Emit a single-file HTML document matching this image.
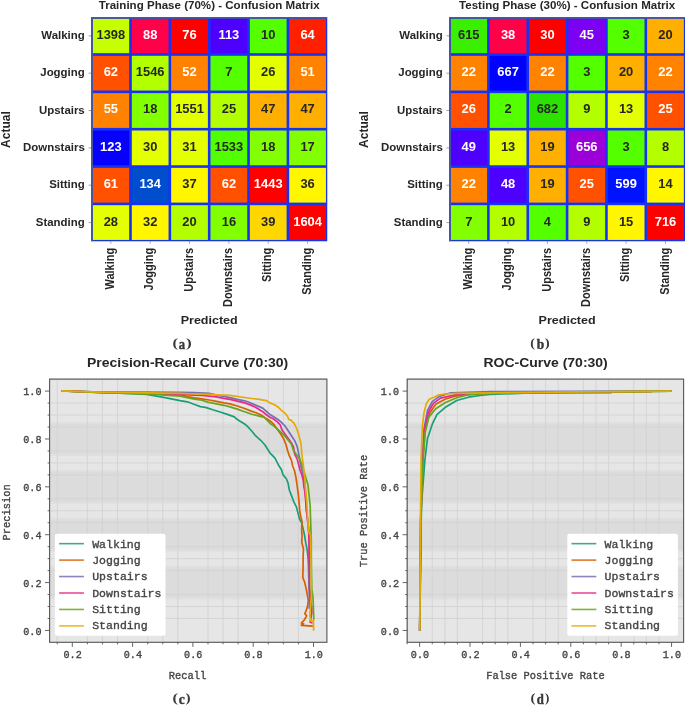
<!DOCTYPE html>
<html><head><meta charset="utf-8"><title>Confusion matrices and curves</title>
<style>html,body{margin:0;padding:0;background:#fff;}svg{display:block;will-change:transform;}</style></head>
<body><svg width="685" height="705" viewBox="0 0 685 705">
<rect width="685" height="705" fill="#fff"/>
<rect x="91.15" y="17.15" width="236.10" height="224.10" fill="#1633f4"/>
<rect x="93.00" y="18.70" width="36.20" height="34.50" fill="#c6ff00"/>
<rect x="131.80" y="18.70" width="36.75" height="34.50" fill="#ff0049"/>
<rect x="171.15" y="18.70" width="36.75" height="34.50" fill="#ff0001"/>
<rect x="210.50" y="18.70" width="36.75" height="34.50" fill="#4e00ff"/>
<rect x="249.85" y="18.70" width="36.75" height="34.50" fill="#54ff00"/>
<rect x="289.20" y="18.70" width="36.75" height="34.50" fill="#ff2000"/>
<rect x="93.00" y="55.80" width="36.20" height="34.75" fill="#ff5100"/>
<rect x="131.80" y="55.80" width="36.75" height="34.75" fill="#b2ff00"/>
<rect x="171.15" y="55.80" width="36.75" height="34.75" fill="#ff8200"/>
<rect x="210.50" y="55.80" width="36.75" height="34.75" fill="#54ff00"/>
<rect x="249.85" y="55.80" width="36.75" height="34.75" fill="#e4ff00"/>
<rect x="289.20" y="55.80" width="36.75" height="34.75" fill="#ff8200"/>
<rect x="93.00" y="93.15" width="36.20" height="34.75" fill="#ff8200"/>
<rect x="131.80" y="93.15" width="36.75" height="34.75" fill="#82ff00"/>
<rect x="171.15" y="93.15" width="36.75" height="34.75" fill="#e3ff00"/>
<rect x="210.50" y="93.15" width="36.75" height="34.75" fill="#b3ff00"/>
<rect x="249.85" y="93.15" width="36.75" height="34.75" fill="#ffaf00"/>
<rect x="289.20" y="93.15" width="36.75" height="34.75" fill="#ffaf00"/>
<rect x="93.00" y="130.50" width="36.20" height="34.75" fill="#0800ff"/>
<rect x="131.80" y="130.50" width="36.75" height="34.75" fill="#e4ff00"/>
<rect x="171.15" y="130.50" width="36.75" height="34.75" fill="#e4ff00"/>
<rect x="210.50" y="130.50" width="36.75" height="34.75" fill="#53fe00"/>
<rect x="249.85" y="130.50" width="36.75" height="34.75" fill="#82ff00"/>
<rect x="289.20" y="130.50" width="36.75" height="34.75" fill="#82ff00"/>
<rect x="93.00" y="167.85" width="36.20" height="34.75" fill="#ff5100"/>
<rect x="131.80" y="167.85" width="36.75" height="34.75" fill="#004ecd"/>
<rect x="171.15" y="167.85" width="36.75" height="34.75" fill="#fff600"/>
<rect x="210.50" y="167.85" width="36.75" height="34.75" fill="#ff5100"/>
<rect x="249.85" y="167.85" width="36.75" height="34.75" fill="#ff0000"/>
<rect x="289.20" y="167.85" width="36.75" height="34.75" fill="#fff600"/>
<rect x="93.00" y="205.20" width="36.20" height="34.75" fill="#e4ff00"/>
<rect x="131.80" y="205.20" width="36.75" height="34.75" fill="#fff600"/>
<rect x="171.15" y="205.20" width="36.75" height="34.75" fill="#b3ff00"/>
<rect x="210.50" y="205.20" width="36.75" height="34.75" fill="#82ff00"/>
<rect x="249.85" y="205.20" width="36.75" height="34.75" fill="#ffd700"/>
<rect x="289.20" y="205.20" width="36.75" height="34.75" fill="#ff0000"/>
<path d="M92.05,241.15V17.90H327.05" fill="none" stroke="#4a5896" stroke-width="1.8"/>
<text transform="translate(110.83,38.78) scale(1.050,1)" font-family="Liberation Sans" font-weight="bold" font-size="12.30" fill="#262626" text-anchor="middle">1398</text>
<text transform="translate(150.18,38.78) scale(1.050,1)" font-family="Liberation Sans" font-weight="bold" font-size="12.30" fill="#ffffff" text-anchor="middle">88</text>
<text transform="translate(189.53,38.78) scale(1.050,1)" font-family="Liberation Sans" font-weight="bold" font-size="12.30" fill="#ffffff" text-anchor="middle">76</text>
<text transform="translate(228.88,38.78) scale(1.050,1)" font-family="Liberation Sans" font-weight="bold" font-size="12.30" fill="#ffffff" text-anchor="middle">113</text>
<text transform="translate(268.23,38.78) scale(1.050,1)" font-family="Liberation Sans" font-weight="bold" font-size="12.30" fill="#262626" text-anchor="middle">10</text>
<text transform="translate(307.57,38.78) scale(1.050,1)" font-family="Liberation Sans" font-weight="bold" font-size="12.30" fill="#ffffff" text-anchor="middle">64</text>
<text transform="translate(110.83,76.12) scale(1.050,1)" font-family="Liberation Sans" font-weight="bold" font-size="12.30" fill="#ffffff" text-anchor="middle">62</text>
<text transform="translate(150.18,76.12) scale(1.050,1)" font-family="Liberation Sans" font-weight="bold" font-size="12.30" fill="#262626" text-anchor="middle">1546</text>
<text transform="translate(189.53,76.12) scale(1.050,1)" font-family="Liberation Sans" font-weight="bold" font-size="12.30" fill="#ffffff" text-anchor="middle">52</text>
<text transform="translate(228.88,76.12) scale(1.050,1)" font-family="Liberation Sans" font-weight="bold" font-size="12.30" fill="#262626" text-anchor="middle">7</text>
<text transform="translate(268.23,76.12) scale(1.050,1)" font-family="Liberation Sans" font-weight="bold" font-size="12.30" fill="#262626" text-anchor="middle">26</text>
<text transform="translate(307.57,76.12) scale(1.050,1)" font-family="Liberation Sans" font-weight="bold" font-size="12.30" fill="#ffffff" text-anchor="middle">51</text>
<text transform="translate(110.83,113.47) scale(1.050,1)" font-family="Liberation Sans" font-weight="bold" font-size="12.30" fill="#ffffff" text-anchor="middle">55</text>
<text transform="translate(150.18,113.47) scale(1.050,1)" font-family="Liberation Sans" font-weight="bold" font-size="12.30" fill="#262626" text-anchor="middle">18</text>
<text transform="translate(189.53,113.47) scale(1.050,1)" font-family="Liberation Sans" font-weight="bold" font-size="12.30" fill="#262626" text-anchor="middle">1551</text>
<text transform="translate(228.88,113.47) scale(1.050,1)" font-family="Liberation Sans" font-weight="bold" font-size="12.30" fill="#262626" text-anchor="middle">25</text>
<text transform="translate(268.23,113.47) scale(1.050,1)" font-family="Liberation Sans" font-weight="bold" font-size="12.30" fill="#262626" text-anchor="middle">47</text>
<text transform="translate(307.57,113.47) scale(1.050,1)" font-family="Liberation Sans" font-weight="bold" font-size="12.30" fill="#262626" text-anchor="middle">47</text>
<text transform="translate(110.83,150.83) scale(1.050,1)" font-family="Liberation Sans" font-weight="bold" font-size="12.30" fill="#ffffff" text-anchor="middle">123</text>
<text transform="translate(150.18,150.83) scale(1.050,1)" font-family="Liberation Sans" font-weight="bold" font-size="12.30" fill="#262626" text-anchor="middle">30</text>
<text transform="translate(189.53,150.83) scale(1.050,1)" font-family="Liberation Sans" font-weight="bold" font-size="12.30" fill="#262626" text-anchor="middle">31</text>
<text transform="translate(228.88,150.83) scale(1.050,1)" font-family="Liberation Sans" font-weight="bold" font-size="12.30" fill="#262626" text-anchor="middle">1533</text>
<text transform="translate(268.23,150.83) scale(1.050,1)" font-family="Liberation Sans" font-weight="bold" font-size="12.30" fill="#262626" text-anchor="middle">18</text>
<text transform="translate(307.57,150.83) scale(1.050,1)" font-family="Liberation Sans" font-weight="bold" font-size="12.30" fill="#262626" text-anchor="middle">17</text>
<text transform="translate(110.83,188.18) scale(1.050,1)" font-family="Liberation Sans" font-weight="bold" font-size="12.30" fill="#ffffff" text-anchor="middle">61</text>
<text transform="translate(150.18,188.18) scale(1.050,1)" font-family="Liberation Sans" font-weight="bold" font-size="12.30" fill="#ffffff" text-anchor="middle">134</text>
<text transform="translate(189.53,188.18) scale(1.050,1)" font-family="Liberation Sans" font-weight="bold" font-size="12.30" fill="#262626" text-anchor="middle">37</text>
<text transform="translate(228.88,188.18) scale(1.050,1)" font-family="Liberation Sans" font-weight="bold" font-size="12.30" fill="#ffffff" text-anchor="middle">62</text>
<text transform="translate(268.23,188.18) scale(1.050,1)" font-family="Liberation Sans" font-weight="bold" font-size="12.30" fill="#ffffff" text-anchor="middle">1443</text>
<text transform="translate(307.57,188.18) scale(1.050,1)" font-family="Liberation Sans" font-weight="bold" font-size="12.30" fill="#262626" text-anchor="middle">36</text>
<text transform="translate(110.83,225.53) scale(1.050,1)" font-family="Liberation Sans" font-weight="bold" font-size="12.30" fill="#262626" text-anchor="middle">28</text>
<text transform="translate(150.18,225.53) scale(1.050,1)" font-family="Liberation Sans" font-weight="bold" font-size="12.30" fill="#262626" text-anchor="middle">32</text>
<text transform="translate(189.53,225.53) scale(1.050,1)" font-family="Liberation Sans" font-weight="bold" font-size="12.30" fill="#262626" text-anchor="middle">20</text>
<text transform="translate(228.88,225.53) scale(1.050,1)" font-family="Liberation Sans" font-weight="bold" font-size="12.30" fill="#262626" text-anchor="middle">16</text>
<text transform="translate(268.23,225.53) scale(1.050,1)" font-family="Liberation Sans" font-weight="bold" font-size="12.30" fill="#262626" text-anchor="middle">39</text>
<text transform="translate(307.57,225.53) scale(1.050,1)" font-family="Liberation Sans" font-weight="bold" font-size="12.30" fill="#ffffff" text-anchor="middle">1604</text>
<line x1="88.55" y1="35.83" x2="91.15" y2="35.83" stroke="#888" stroke-width="0.8"/>
<text transform="translate(84.75,38.83) scale(1.040,1)" font-family="Liberation Sans" font-weight="bold" font-size="11.00" fill="#262626" text-anchor="end">Walking</text>
<line x1="88.55" y1="73.17" x2="91.15" y2="73.17" stroke="#888" stroke-width="0.8"/>
<text transform="translate(84.75,76.17) scale(1.040,1)" font-family="Liberation Sans" font-weight="bold" font-size="11.00" fill="#262626" text-anchor="end">Jogging</text>
<line x1="88.55" y1="110.52" x2="91.15" y2="110.52" stroke="#888" stroke-width="0.8"/>
<text transform="translate(84.75,113.52) scale(1.040,1)" font-family="Liberation Sans" font-weight="bold" font-size="11.00" fill="#262626" text-anchor="end">Upstairs</text>
<line x1="88.55" y1="147.88" x2="91.15" y2="147.88" stroke="#888" stroke-width="0.8"/>
<text transform="translate(84.75,150.88) scale(1.040,1)" font-family="Liberation Sans" font-weight="bold" font-size="11.00" fill="#262626" text-anchor="end">Downstairs</text>
<line x1="88.55" y1="185.23" x2="91.15" y2="185.23" stroke="#888" stroke-width="0.8"/>
<text transform="translate(84.75,188.23) scale(1.040,1)" font-family="Liberation Sans" font-weight="bold" font-size="11.00" fill="#262626" text-anchor="end">Sitting</text>
<line x1="88.55" y1="222.58" x2="91.15" y2="222.58" stroke="#888" stroke-width="0.8"/>
<text transform="translate(84.75,225.58) scale(1.040,1)" font-family="Liberation Sans" font-weight="bold" font-size="11.00" fill="#262626" text-anchor="end">Standing</text>
<line x1="110.83" y1="241.25" x2="110.83" y2="243.65" stroke="#888" stroke-width="0.8"/>
<text transform="translate(113.92,247.90) scale(1.100,1) rotate(-90)" font-family="Liberation Sans" font-weight="bold" font-size="10.95" fill="#262626" text-anchor="end">Walking</text>
<line x1="150.18" y1="241.25" x2="150.18" y2="243.65" stroke="#888" stroke-width="0.8"/>
<text transform="translate(153.28,247.90) scale(1.100,1) rotate(-90)" font-family="Liberation Sans" font-weight="bold" font-size="10.95" fill="#262626" text-anchor="end">Jogging</text>
<line x1="189.53" y1="241.25" x2="189.53" y2="243.65" stroke="#888" stroke-width="0.8"/>
<text transform="translate(192.63,247.90) scale(1.100,1) rotate(-90)" font-family="Liberation Sans" font-weight="bold" font-size="10.95" fill="#262626" text-anchor="end">Upstairs</text>
<line x1="228.88" y1="241.25" x2="228.88" y2="243.65" stroke="#888" stroke-width="0.8"/>
<text transform="translate(231.98,247.90) scale(1.100,1) rotate(-90)" font-family="Liberation Sans" font-weight="bold" font-size="10.95" fill="#262626" text-anchor="end">Downstairs</text>
<line x1="268.23" y1="241.25" x2="268.23" y2="243.65" stroke="#888" stroke-width="0.8"/>
<text transform="translate(271.33,247.90) scale(1.100,1) rotate(-90)" font-family="Liberation Sans" font-weight="bold" font-size="10.95" fill="#262626" text-anchor="end">Sitting</text>
<line x1="307.57" y1="241.25" x2="307.57" y2="243.65" stroke="#888" stroke-width="0.8"/>
<text transform="translate(310.68,247.90) scale(1.100,1) rotate(-90)" font-family="Liberation Sans" font-weight="bold" font-size="10.95" fill="#262626" text-anchor="end">Standing</text>
<text transform="translate(209.20,8.80) scale(1.092,1)" font-family="Liberation Sans" font-weight="bold" font-size="10.60" fill="#262626" text-anchor="middle">Training Phase (70%) - Confusion Matrix</text>
<text transform="translate(9.90,129.60) rotate(-90)" font-family="Liberation Sans" font-weight="bold" font-size="12.00" fill="#262626" text-anchor="middle">Actual</text>
<text transform="translate(209.20,323.80) scale(1.140,1)" font-family="Liberation Sans" font-weight="bold" font-size="11.00" fill="#262626" text-anchor="middle">Predicted</text>
<rect x="449.05" y="17.15" width="236.10" height="224.10" fill="#1633f4"/>
<rect x="450.90" y="18.70" width="36.20" height="34.50" fill="#3aef00"/>
<rect x="489.70" y="18.70" width="36.75" height="34.50" fill="#ff0049"/>
<rect x="529.05" y="18.70" width="36.75" height="34.50" fill="#ff0000"/>
<rect x="568.40" y="18.70" width="36.75" height="34.50" fill="#7c00f1"/>
<rect x="607.75" y="18.70" width="36.75" height="34.50" fill="#54ff00"/>
<rect x="647.10" y="18.70" width="36.75" height="34.50" fill="#ffaf00"/>
<rect x="450.90" y="55.80" width="36.20" height="34.75" fill="#ff8200"/>
<rect x="489.70" y="55.80" width="36.75" height="34.75" fill="#0001ff"/>
<rect x="529.05" y="55.80" width="36.75" height="34.75" fill="#ff8200"/>
<rect x="568.40" y="55.80" width="36.75" height="34.75" fill="#54ff00"/>
<rect x="607.75" y="55.80" width="36.75" height="34.75" fill="#ffaf00"/>
<rect x="647.10" y="55.80" width="36.75" height="34.75" fill="#ff8200"/>
<rect x="450.90" y="93.15" width="36.20" height="34.75" fill="#ff5100"/>
<rect x="489.70" y="93.15" width="36.75" height="34.75" fill="#54ff00"/>
<rect x="529.05" y="93.15" width="36.75" height="34.75" fill="#2be200"/>
<rect x="568.40" y="93.15" width="36.75" height="34.75" fill="#b3ff00"/>
<rect x="607.75" y="93.15" width="36.75" height="34.75" fill="#e4ff00"/>
<rect x="647.10" y="93.15" width="36.75" height="34.75" fill="#ff5100"/>
<rect x="450.90" y="130.50" width="36.20" height="34.75" fill="#4e00ff"/>
<rect x="489.70" y="130.50" width="36.75" height="34.75" fill="#e4ff00"/>
<rect x="529.05" y="130.50" width="36.75" height="34.75" fill="#ffaf00"/>
<rect x="568.40" y="130.50" width="36.75" height="34.75" fill="#9a00d7"/>
<rect x="607.75" y="130.50" width="36.75" height="34.75" fill="#54ff00"/>
<rect x="647.10" y="130.50" width="36.75" height="34.75" fill="#b3ff00"/>
<rect x="450.90" y="167.85" width="36.20" height="34.75" fill="#ff8200"/>
<rect x="489.70" y="167.85" width="36.75" height="34.75" fill="#4e00ff"/>
<rect x="529.05" y="167.85" width="36.75" height="34.75" fill="#ffaf00"/>
<rect x="568.40" y="167.85" width="36.75" height="34.75" fill="#ff5100"/>
<rect x="607.75" y="167.85" width="36.75" height="34.75" fill="#0013fe"/>
<rect x="647.10" y="167.85" width="36.75" height="34.75" fill="#fff600"/>
<rect x="450.90" y="205.20" width="36.20" height="34.75" fill="#82ff00"/>
<rect x="489.70" y="205.20" width="36.75" height="34.75" fill="#b3ff00"/>
<rect x="529.05" y="205.20" width="36.75" height="34.75" fill="#54ff00"/>
<rect x="568.40" y="205.20" width="36.75" height="34.75" fill="#b3ff00"/>
<rect x="607.75" y="205.20" width="36.75" height="34.75" fill="#fff600"/>
<rect x="647.10" y="205.20" width="36.75" height="34.75" fill="#ff0000"/>
<path d="M449.95,241.15V17.90H684.95" fill="none" stroke="#4a5896" stroke-width="1.8"/>
<text transform="translate(468.73,38.78) scale(1.050,1)" font-family="Liberation Sans" font-weight="bold" font-size="12.30" fill="#262626" text-anchor="middle">615</text>
<text transform="translate(508.08,38.78) scale(1.050,1)" font-family="Liberation Sans" font-weight="bold" font-size="12.30" fill="#ffffff" text-anchor="middle">38</text>
<text transform="translate(547.42,38.78) scale(1.050,1)" font-family="Liberation Sans" font-weight="bold" font-size="12.30" fill="#ffffff" text-anchor="middle">30</text>
<text transform="translate(586.77,38.78) scale(1.050,1)" font-family="Liberation Sans" font-weight="bold" font-size="12.30" fill="#ffffff" text-anchor="middle">45</text>
<text transform="translate(626.12,38.78) scale(1.050,1)" font-family="Liberation Sans" font-weight="bold" font-size="12.30" fill="#262626" text-anchor="middle">3</text>
<text transform="translate(665.47,38.78) scale(1.050,1)" font-family="Liberation Sans" font-weight="bold" font-size="12.30" fill="#262626" text-anchor="middle">20</text>
<text transform="translate(468.73,76.12) scale(1.050,1)" font-family="Liberation Sans" font-weight="bold" font-size="12.30" fill="#ffffff" text-anchor="middle">22</text>
<text transform="translate(508.08,76.12) scale(1.050,1)" font-family="Liberation Sans" font-weight="bold" font-size="12.30" fill="#ffffff" text-anchor="middle">667</text>
<text transform="translate(547.42,76.12) scale(1.050,1)" font-family="Liberation Sans" font-weight="bold" font-size="12.30" fill="#ffffff" text-anchor="middle">22</text>
<text transform="translate(586.77,76.12) scale(1.050,1)" font-family="Liberation Sans" font-weight="bold" font-size="12.30" fill="#262626" text-anchor="middle">3</text>
<text transform="translate(626.12,76.12) scale(1.050,1)" font-family="Liberation Sans" font-weight="bold" font-size="12.30" fill="#262626" text-anchor="middle">20</text>
<text transform="translate(665.47,76.12) scale(1.050,1)" font-family="Liberation Sans" font-weight="bold" font-size="12.30" fill="#ffffff" text-anchor="middle">22</text>
<text transform="translate(468.73,113.47) scale(1.050,1)" font-family="Liberation Sans" font-weight="bold" font-size="12.30" fill="#ffffff" text-anchor="middle">26</text>
<text transform="translate(508.08,113.47) scale(1.050,1)" font-family="Liberation Sans" font-weight="bold" font-size="12.30" fill="#262626" text-anchor="middle">2</text>
<text transform="translate(547.42,113.47) scale(1.050,1)" font-family="Liberation Sans" font-weight="bold" font-size="12.30" fill="#262626" text-anchor="middle">682</text>
<text transform="translate(586.77,113.47) scale(1.050,1)" font-family="Liberation Sans" font-weight="bold" font-size="12.30" fill="#262626" text-anchor="middle">9</text>
<text transform="translate(626.12,113.47) scale(1.050,1)" font-family="Liberation Sans" font-weight="bold" font-size="12.30" fill="#262626" text-anchor="middle">13</text>
<text transform="translate(665.47,113.47) scale(1.050,1)" font-family="Liberation Sans" font-weight="bold" font-size="12.30" fill="#ffffff" text-anchor="middle">25</text>
<text transform="translate(468.73,150.83) scale(1.050,1)" font-family="Liberation Sans" font-weight="bold" font-size="12.30" fill="#ffffff" text-anchor="middle">49</text>
<text transform="translate(508.08,150.83) scale(1.050,1)" font-family="Liberation Sans" font-weight="bold" font-size="12.30" fill="#262626" text-anchor="middle">13</text>
<text transform="translate(547.42,150.83) scale(1.050,1)" font-family="Liberation Sans" font-weight="bold" font-size="12.30" fill="#262626" text-anchor="middle">19</text>
<text transform="translate(586.77,150.83) scale(1.050,1)" font-family="Liberation Sans" font-weight="bold" font-size="12.30" fill="#ffffff" text-anchor="middle">656</text>
<text transform="translate(626.12,150.83) scale(1.050,1)" font-family="Liberation Sans" font-weight="bold" font-size="12.30" fill="#262626" text-anchor="middle">3</text>
<text transform="translate(665.47,150.83) scale(1.050,1)" font-family="Liberation Sans" font-weight="bold" font-size="12.30" fill="#262626" text-anchor="middle">8</text>
<text transform="translate(468.73,188.18) scale(1.050,1)" font-family="Liberation Sans" font-weight="bold" font-size="12.30" fill="#ffffff" text-anchor="middle">22</text>
<text transform="translate(508.08,188.18) scale(1.050,1)" font-family="Liberation Sans" font-weight="bold" font-size="12.30" fill="#ffffff" text-anchor="middle">48</text>
<text transform="translate(547.42,188.18) scale(1.050,1)" font-family="Liberation Sans" font-weight="bold" font-size="12.30" fill="#262626" text-anchor="middle">19</text>
<text transform="translate(586.77,188.18) scale(1.050,1)" font-family="Liberation Sans" font-weight="bold" font-size="12.30" fill="#ffffff" text-anchor="middle">25</text>
<text transform="translate(626.12,188.18) scale(1.050,1)" font-family="Liberation Sans" font-weight="bold" font-size="12.30" fill="#ffffff" text-anchor="middle">599</text>
<text transform="translate(665.47,188.18) scale(1.050,1)" font-family="Liberation Sans" font-weight="bold" font-size="12.30" fill="#262626" text-anchor="middle">14</text>
<text transform="translate(468.73,225.53) scale(1.050,1)" font-family="Liberation Sans" font-weight="bold" font-size="12.30" fill="#262626" text-anchor="middle">7</text>
<text transform="translate(508.08,225.53) scale(1.050,1)" font-family="Liberation Sans" font-weight="bold" font-size="12.30" fill="#262626" text-anchor="middle">10</text>
<text transform="translate(547.42,225.53) scale(1.050,1)" font-family="Liberation Sans" font-weight="bold" font-size="12.30" fill="#262626" text-anchor="middle">4</text>
<text transform="translate(586.77,225.53) scale(1.050,1)" font-family="Liberation Sans" font-weight="bold" font-size="12.30" fill="#262626" text-anchor="middle">9</text>
<text transform="translate(626.12,225.53) scale(1.050,1)" font-family="Liberation Sans" font-weight="bold" font-size="12.30" fill="#262626" text-anchor="middle">15</text>
<text transform="translate(665.47,225.53) scale(1.050,1)" font-family="Liberation Sans" font-weight="bold" font-size="12.30" fill="#ffffff" text-anchor="middle">716</text>
<line x1="446.45" y1="35.83" x2="449.05" y2="35.83" stroke="#888" stroke-width="0.8"/>
<text transform="translate(442.75,38.83) scale(1.040,1)" font-family="Liberation Sans" font-weight="bold" font-size="11.00" fill="#262626" text-anchor="end">Walking</text>
<line x1="446.45" y1="73.17" x2="449.05" y2="73.17" stroke="#888" stroke-width="0.8"/>
<text transform="translate(442.75,76.17) scale(1.040,1)" font-family="Liberation Sans" font-weight="bold" font-size="11.00" fill="#262626" text-anchor="end">Jogging</text>
<line x1="446.45" y1="110.52" x2="449.05" y2="110.52" stroke="#888" stroke-width="0.8"/>
<text transform="translate(442.75,113.52) scale(1.040,1)" font-family="Liberation Sans" font-weight="bold" font-size="11.00" fill="#262626" text-anchor="end">Upstairs</text>
<line x1="446.45" y1="147.88" x2="449.05" y2="147.88" stroke="#888" stroke-width="0.8"/>
<text transform="translate(442.75,150.88) scale(1.040,1)" font-family="Liberation Sans" font-weight="bold" font-size="11.00" fill="#262626" text-anchor="end">Downstairs</text>
<line x1="446.45" y1="185.23" x2="449.05" y2="185.23" stroke="#888" stroke-width="0.8"/>
<text transform="translate(442.75,188.23) scale(1.040,1)" font-family="Liberation Sans" font-weight="bold" font-size="11.00" fill="#262626" text-anchor="end">Sitting</text>
<line x1="446.45" y1="222.58" x2="449.05" y2="222.58" stroke="#888" stroke-width="0.8"/>
<text transform="translate(442.75,225.58) scale(1.040,1)" font-family="Liberation Sans" font-weight="bold" font-size="11.00" fill="#262626" text-anchor="end">Standing</text>
<line x1="468.73" y1="241.25" x2="468.73" y2="243.65" stroke="#888" stroke-width="0.8"/>
<text transform="translate(471.83,247.90) scale(1.100,1) rotate(-90)" font-family="Liberation Sans" font-weight="bold" font-size="10.95" fill="#262626" text-anchor="end">Walking</text>
<line x1="508.08" y1="241.25" x2="508.08" y2="243.65" stroke="#888" stroke-width="0.8"/>
<text transform="translate(511.18,247.90) scale(1.100,1) rotate(-90)" font-family="Liberation Sans" font-weight="bold" font-size="10.95" fill="#262626" text-anchor="end">Jogging</text>
<line x1="547.42" y1="241.25" x2="547.42" y2="243.65" stroke="#888" stroke-width="0.8"/>
<text transform="translate(550.52,247.90) scale(1.100,1) rotate(-90)" font-family="Liberation Sans" font-weight="bold" font-size="10.95" fill="#262626" text-anchor="end">Upstairs</text>
<line x1="586.77" y1="241.25" x2="586.77" y2="243.65" stroke="#888" stroke-width="0.8"/>
<text transform="translate(589.88,247.90) scale(1.100,1) rotate(-90)" font-family="Liberation Sans" font-weight="bold" font-size="10.95" fill="#262626" text-anchor="end">Downstairs</text>
<line x1="626.12" y1="241.25" x2="626.12" y2="243.65" stroke="#888" stroke-width="0.8"/>
<text transform="translate(629.23,247.90) scale(1.100,1) rotate(-90)" font-family="Liberation Sans" font-weight="bold" font-size="10.95" fill="#262626" text-anchor="end">Sitting</text>
<line x1="665.47" y1="241.25" x2="665.47" y2="243.65" stroke="#888" stroke-width="0.8"/>
<text transform="translate(668.57,247.90) scale(1.100,1) rotate(-90)" font-family="Liberation Sans" font-weight="bold" font-size="10.95" fill="#262626" text-anchor="end">Standing</text>
<text transform="translate(567.10,8.80) scale(1.092,1)" font-family="Liberation Sans" font-weight="bold" font-size="10.60" fill="#262626" text-anchor="middle">Testing Phase (30%) - Confusion Matrix</text>
<text transform="translate(367.90,129.60) rotate(-90)" font-family="Liberation Sans" font-weight="bold" font-size="12.00" fill="#262626" text-anchor="middle">Actual</text>
<text transform="translate(567.10,323.80) scale(1.140,1)" font-family="Liberation Sans" font-weight="bold" font-size="11.00" fill="#262626" text-anchor="middle">Predicted</text>
<rect x="49.60" y="379.10" width="277.30" height="263.20" fill="#e6e6e6"/>
<rect x="49.60" y="565.58" width="277.30" height="34" fill="#e0e0e0"/>
<rect x="49.60" y="567.58" width="277.30" height="30" fill="#dcdcdc"/>
<rect x="49.60" y="517.71" width="277.30" height="34" fill="#e0e0e0"/>
<rect x="49.60" y="519.71" width="277.30" height="30" fill="#dcdcdc"/>
<rect x="49.60" y="469.84" width="277.30" height="34" fill="#e0e0e0"/>
<rect x="49.60" y="471.84" width="277.30" height="30" fill="#dcdcdc"/>
<rect x="49.60" y="421.97" width="277.30" height="34" fill="#e0e0e0"/>
<rect x="49.60" y="423.97" width="277.30" height="30" fill="#dcdcdc"/>
<line x1="57.22" y1="379.10" x2="57.22" y2="642.30" stroke="#d2d2d2" stroke-width="0.9"/>
<line x1="87.38" y1="379.10" x2="87.38" y2="642.30" stroke="#d2d2d2" stroke-width="0.9"/>
<line x1="102.45" y1="379.10" x2="102.45" y2="642.30" stroke="#d2d2d2" stroke-width="0.9"/>
<line x1="117.52" y1="379.10" x2="117.52" y2="642.30" stroke="#d2d2d2" stroke-width="0.9"/>
<line x1="147.68" y1="379.10" x2="147.68" y2="642.30" stroke="#d2d2d2" stroke-width="0.9"/>
<line x1="162.75" y1="379.10" x2="162.75" y2="642.30" stroke="#d2d2d2" stroke-width="0.9"/>
<line x1="177.82" y1="379.10" x2="177.82" y2="642.30" stroke="#d2d2d2" stroke-width="0.9"/>
<line x1="207.98" y1="379.10" x2="207.98" y2="642.30" stroke="#d2d2d2" stroke-width="0.9"/>
<line x1="223.05" y1="379.10" x2="223.05" y2="642.30" stroke="#d2d2d2" stroke-width="0.9"/>
<line x1="238.12" y1="379.10" x2="238.12" y2="642.30" stroke="#d2d2d2" stroke-width="0.9"/>
<line x1="268.28" y1="379.10" x2="268.28" y2="642.30" stroke="#d2d2d2" stroke-width="0.9"/>
<line x1="283.35" y1="379.10" x2="283.35" y2="642.30" stroke="#d2d2d2" stroke-width="0.9"/>
<line x1="298.43" y1="379.10" x2="298.43" y2="642.30" stroke="#d2d2d2" stroke-width="0.9"/>
<line x1="49.60" y1="618.48" x2="326.90" y2="618.48" stroke="#d2d2d2" stroke-width="0.9"/>
<line x1="49.60" y1="606.52" x2="326.90" y2="606.52" stroke="#d2d2d2" stroke-width="0.9"/>
<line x1="49.60" y1="594.55" x2="326.90" y2="594.55" stroke="#d2d2d2" stroke-width="0.9"/>
<line x1="49.60" y1="570.61" x2="326.90" y2="570.61" stroke="#d2d2d2" stroke-width="0.9"/>
<line x1="49.60" y1="558.64" x2="326.90" y2="558.64" stroke="#d2d2d2" stroke-width="0.9"/>
<line x1="49.60" y1="546.68" x2="326.90" y2="546.68" stroke="#d2d2d2" stroke-width="0.9"/>
<line x1="49.60" y1="522.74" x2="326.90" y2="522.74" stroke="#d2d2d2" stroke-width="0.9"/>
<line x1="49.60" y1="510.78" x2="326.90" y2="510.78" stroke="#d2d2d2" stroke-width="0.9"/>
<line x1="49.60" y1="498.81" x2="326.90" y2="498.81" stroke="#d2d2d2" stroke-width="0.9"/>
<line x1="49.60" y1="474.87" x2="326.90" y2="474.87" stroke="#d2d2d2" stroke-width="0.9"/>
<line x1="49.60" y1="462.91" x2="326.90" y2="462.91" stroke="#d2d2d2" stroke-width="0.9"/>
<line x1="49.60" y1="450.94" x2="326.90" y2="450.94" stroke="#d2d2d2" stroke-width="0.9"/>
<line x1="49.60" y1="427.00" x2="326.90" y2="427.00" stroke="#d2d2d2" stroke-width="0.9"/>
<line x1="49.60" y1="415.04" x2="326.90" y2="415.04" stroke="#d2d2d2" stroke-width="0.9"/>
<line x1="49.60" y1="403.07" x2="326.90" y2="403.07" stroke="#d2d2d2" stroke-width="0.9"/>
<line x1="49.60" y1="379.13" x2="326.90" y2="379.13" stroke="#d2d2d2" stroke-width="0.9"/>
<path d="M61.2,390.9 L100.0,392.2 L146.7,394.3 L165.0,397.6 L180.0,400.7 L187.3,401.8 L194.6,404.5 L200.4,406.6 L205.5,407.4 L212.8,409.8 L220.1,412.0 L227.4,414.4 L234.4,416.9 L237.3,419.6 L244.6,424.0 L247.5,426.4 L251.9,431.3 L255.5,435.7 L260.7,440.3 L265.0,445.0 L269.9,452.8 L275.0,458.1 L278.3,464.7 L281.6,470.0 L282.9,474.6 L286.2,478.5 L288.1,483.1 L289.3,490.0 L291.4,495.4 L293.6,501.3 L296.5,507.2 L298.0,513.1 L299.5,519.0 L301.7,522.7 L303.2,529.3 L304.5,535.0 L305.6,542.1 L307.0,549.2 L308.1,558.4 L308.5,567.0 L308.8,577.6 L309.1,585.0 L310.2,592.0 L310.6,602.0" fill="none" stroke="#1b9e77" stroke-width="1.7" stroke-linejoin="round" stroke-linecap="butt"/>
<path d="M61.2,390.9 L100.0,392.4 L146.7,393.4 L180.0,394.9 L187.3,396.6 L194.6,397.9 L201.9,398.8 L209.2,400.0 L216.5,401.4 L223.8,402.9 L230.0,403.9 L237.3,406.0 L244.6,408.5 L251.9,411.4 L255.5,412.5 L260.7,414.7 L265.0,417.6 L270.0,420.8 L273.6,424.1 L277.3,429.2 L280.9,434.3 L283.9,439.4 L286.1,445.0 L287.5,450.3 L289.5,456.2 L291.4,460.1 L292.7,466.0 L294.7,471.3 L296.0,477.9 L297.0,484.4 L297.7,490.0 L298.4,495.4 L299.1,502.7 L299.9,512.3 L301.0,517.5 L302.1,521.9 L301.7,526.3 L301.7,532.2 L302.1,536.0 L301.7,542.1 L303.5,549.2 L303.1,556.3 L303.1,566.9 L302.8,577.6 L304.6,582.0 L306.3,589.4 L307.5,595.6 L308.3,600.3 L307.5,606.6 L305.9,611.3 L304.8,613.6 L306.7,615.9 L304.4,619.8 L301.3,623.0 L303.6,623.8 L301.3,625.3 L313.0,626.1" fill="none" stroke="#d95f02" stroke-width="1.7" stroke-linejoin="round" stroke-linecap="butt"/>
<path d="M61.2,390.9 L100.0,392.0 L146.7,392.2 L180.0,392.3 L194.6,392.7 L209.2,393.4 L216.5,395.0 L223.8,396.5 L230.0,397.6 L237.3,399.3 L244.6,400.8 L249.0,402.2 L255.5,405.1 L262.8,408.1 L270.0,414.6 L273.6,416.8 L277.3,419.0 L280.9,421.9 L284.6,425.5 L288.2,430.7 L291.9,436.5 L294.8,440.9 L297.0,446.0 L298.0,450.3 L299.3,456.8 L300.6,464.7 L302.6,472.6 L303.9,479.2 L304.6,484.4 L305.2,490.0 L305.8,499.0 L306.5,510.0 L307.3,518.0 L308.3,525.0 L309.0,535.0 L309.3,548.0 L309.1,560.0 L309.1,575.0 L309.1,587.8 L309.5,599.5 L309.1,608.9" fill="none" stroke="#7570b3" stroke-width="1.7" stroke-linejoin="round" stroke-linecap="butt"/>
<path d="M61.2,390.9 L100.0,392.3 L146.7,392.9 L180.0,394.4 L194.6,395.1 L201.9,395.5 L209.2,396.2 L216.5,396.9 L223.8,398.4 L230.0,399.4 L237.3,401.1 L244.6,402.9 L249.0,404.4 L255.5,407.3 L262.8,411.7 L266.0,414.5 L270.0,417.2 L273.6,419.0 L277.3,421.9 L280.2,424.8 L281.7,429.2 L284.6,433.6 L289.0,439.4 L291.9,443.8 L293.4,446.7 L294.7,454.2 L297.3,459.5 L298.7,464.7 L300.0,470.0 L302.0,475.2 L303.3,480.5 L303.9,487.0 L304.6,490.0 L305.6,499.0 L306.3,510.0 L307.4,518.0 L308.1,525.0 L308.9,535.0 L309.1,548.0 L309.1,556.3 L309.5,577.6 L309.5,590.0 L310.5,600.0 L311.8,607.3 L311.8,612.8 L310.2,622.2 L312.6,623.0" fill="none" stroke="#e7298a" stroke-width="1.7" stroke-linejoin="round" stroke-linecap="butt"/>
<path d="M61.2,390.9 L100.0,392.6 L146.7,394.0 L180.0,396.2 L187.3,397.7 L194.6,399.1 L201.9,400.2 L207.7,402.1 L216.5,403.9 L223.8,405.3 L230.0,406.9 L237.3,409.1 L244.6,411.7 L251.9,414.2 L259.2,416.1 L264.3,417.5 L268.0,421.2 L270.9,424.1 L273.6,425.9 L277.3,429.1 L280.9,432.1 L284.6,435.8 L288.2,440.1 L291.2,443.8 L293.4,450.3 L296.7,454.9 L300.0,459.5 L302.0,464.7 L303.9,471.3 L305.9,477.9 L307.9,484.4 L308.5,490.0 L309.1,495.4 L310.2,506.4 L310.5,517.5 L310.9,528.6 L311.3,540.0 L311.3,556.0 L311.5,575.0 L311.8,589.4 L313.0,597.2 L313.4,607.3 L313.8,619.8" fill="none" stroke="#66a61e" stroke-width="1.7" stroke-linejoin="round" stroke-linecap="butt"/>
<path d="M61.2,390.9 L100.0,392.2 L146.7,392.8 L180.0,393.4 L194.6,394.0 L209.2,394.4 L216.5,394.8 L230.0,395.3 L244.6,397.5 L251.9,398.5 L259.2,399.3 L266.5,400.7 L270.0,402.9 L274.4,404.7 L278.0,406.9 L280.9,409.9 L284.6,412.8 L287.5,416.1 L288.6,419.3 L291.2,420.4 L294.1,423.4 L296.3,427.7 L298.5,433.6 L299.9,439.4 L301.0,443.8 L301.6,451.6 L302.3,458.1 L303.3,464.7 L303.9,471.3 L304.9,477.9 L305.4,488.0 L306.9,502.7 L307.6,517.5 L308.7,532.2 L310.6,535.0 L310.9,556.3 L311.2,575.0 L311.4,595.6 L310.6,605.8 L309.8,615.2 L310.6,620.6 L313.4,620.6 L313.6,630.8" fill="none" stroke="#e6ab02" stroke-width="1.7" stroke-linejoin="round" stroke-linecap="butt"/>
<rect x="49.60" y="379.10" width="277.30" height="263.20" fill="none" stroke="#555555" stroke-width="1.1"/>
<line x1="45.00" y1="630.45" x2="49.60" y2="630.45" stroke="#555555" stroke-width="0.9"/>
<line x1="47.60" y1="618.48" x2="49.60" y2="618.48" stroke="#555555" stroke-width="0.9"/>
<line x1="47.60" y1="606.52" x2="49.60" y2="606.52" stroke="#555555" stroke-width="0.9"/>
<line x1="47.60" y1="594.55" x2="49.60" y2="594.55" stroke="#555555" stroke-width="0.9"/>
<line x1="45.00" y1="582.58" x2="49.60" y2="582.58" stroke="#555555" stroke-width="0.9"/>
<line x1="47.60" y1="570.61" x2="49.60" y2="570.61" stroke="#555555" stroke-width="0.9"/>
<line x1="47.60" y1="558.64" x2="49.60" y2="558.64" stroke="#555555" stroke-width="0.9"/>
<line x1="47.60" y1="546.68" x2="49.60" y2="546.68" stroke="#555555" stroke-width="0.9"/>
<line x1="45.00" y1="534.71" x2="49.60" y2="534.71" stroke="#555555" stroke-width="0.9"/>
<line x1="47.60" y1="522.74" x2="49.60" y2="522.74" stroke="#555555" stroke-width="0.9"/>
<line x1="47.60" y1="510.78" x2="49.60" y2="510.78" stroke="#555555" stroke-width="0.9"/>
<line x1="47.60" y1="498.81" x2="49.60" y2="498.81" stroke="#555555" stroke-width="0.9"/>
<line x1="45.00" y1="486.84" x2="49.60" y2="486.84" stroke="#555555" stroke-width="0.9"/>
<line x1="47.60" y1="474.87" x2="49.60" y2="474.87" stroke="#555555" stroke-width="0.9"/>
<line x1="47.60" y1="462.91" x2="49.60" y2="462.91" stroke="#555555" stroke-width="0.9"/>
<line x1="47.60" y1="450.94" x2="49.60" y2="450.94" stroke="#555555" stroke-width="0.9"/>
<line x1="45.00" y1="438.97" x2="49.60" y2="438.97" stroke="#555555" stroke-width="0.9"/>
<line x1="47.60" y1="427.00" x2="49.60" y2="427.00" stroke="#555555" stroke-width="0.9"/>
<line x1="47.60" y1="415.04" x2="49.60" y2="415.04" stroke="#555555" stroke-width="0.9"/>
<line x1="47.60" y1="403.07" x2="49.60" y2="403.07" stroke="#555555" stroke-width="0.9"/>
<line x1="45.00" y1="391.10" x2="49.60" y2="391.10" stroke="#555555" stroke-width="0.9"/>
<text transform="translate(41.50,634.55) scale(0.950,1)" font-family="Liberation Mono" font-size="10.70" fill="#444444" text-anchor="end" stroke="#444444" stroke-width="0.35">0.0</text>
<text transform="translate(41.50,586.68) scale(0.950,1)" font-family="Liberation Mono" font-size="10.70" fill="#444444" text-anchor="end" stroke="#444444" stroke-width="0.35">0.2</text>
<text transform="translate(41.50,538.81) scale(0.950,1)" font-family="Liberation Mono" font-size="10.70" fill="#444444" text-anchor="end" stroke="#444444" stroke-width="0.35">0.4</text>
<text transform="translate(41.50,490.94) scale(0.950,1)" font-family="Liberation Mono" font-size="10.70" fill="#444444" text-anchor="end" stroke="#444444" stroke-width="0.35">0.6</text>
<text transform="translate(41.50,443.07) scale(0.950,1)" font-family="Liberation Mono" font-size="10.70" fill="#444444" text-anchor="end" stroke="#444444" stroke-width="0.35">0.8</text>
<text transform="translate(41.50,395.20) scale(0.950,1)" font-family="Liberation Mono" font-size="10.70" fill="#444444" text-anchor="end" stroke="#444444" stroke-width="0.35">1.0</text>
<line x1="57.22" y1="642.30" x2="57.22" y2="644.30" stroke="#555555" stroke-width="0.9"/>
<line x1="87.38" y1="642.30" x2="87.38" y2="644.30" stroke="#555555" stroke-width="0.9"/>
<line x1="102.45" y1="642.30" x2="102.45" y2="644.30" stroke="#555555" stroke-width="0.9"/>
<line x1="117.52" y1="642.30" x2="117.52" y2="644.30" stroke="#555555" stroke-width="0.9"/>
<line x1="147.68" y1="642.30" x2="147.68" y2="644.30" stroke="#555555" stroke-width="0.9"/>
<line x1="162.75" y1="642.30" x2="162.75" y2="644.30" stroke="#555555" stroke-width="0.9"/>
<line x1="177.82" y1="642.30" x2="177.82" y2="644.30" stroke="#555555" stroke-width="0.9"/>
<line x1="207.98" y1="642.30" x2="207.98" y2="644.30" stroke="#555555" stroke-width="0.9"/>
<line x1="223.05" y1="642.30" x2="223.05" y2="644.30" stroke="#555555" stroke-width="0.9"/>
<line x1="238.12" y1="642.30" x2="238.12" y2="644.30" stroke="#555555" stroke-width="0.9"/>
<line x1="268.28" y1="642.30" x2="268.28" y2="644.30" stroke="#555555" stroke-width="0.9"/>
<line x1="283.35" y1="642.30" x2="283.35" y2="644.30" stroke="#555555" stroke-width="0.9"/>
<line x1="298.43" y1="642.30" x2="298.43" y2="644.30" stroke="#555555" stroke-width="0.9"/>
<line x1="72.30" y1="642.30" x2="72.30" y2="646.90" stroke="#555555" stroke-width="0.9"/>
<text transform="translate(72.60,658.00) scale(0.950,1)" font-family="Liberation Mono" font-size="10.70" fill="#444444" text-anchor="middle" stroke="#444444" stroke-width="0.35">0.2</text>
<line x1="132.60" y1="642.30" x2="132.60" y2="646.90" stroke="#555555" stroke-width="0.9"/>
<text transform="translate(132.90,658.00) scale(0.950,1)" font-family="Liberation Mono" font-size="10.70" fill="#444444" text-anchor="middle" stroke="#444444" stroke-width="0.35">0.4</text>
<line x1="192.90" y1="642.30" x2="192.90" y2="646.90" stroke="#555555" stroke-width="0.9"/>
<text transform="translate(193.20,658.00) scale(0.950,1)" font-family="Liberation Mono" font-size="10.70" fill="#444444" text-anchor="middle" stroke="#444444" stroke-width="0.35">0.6</text>
<line x1="253.20" y1="642.30" x2="253.20" y2="646.90" stroke="#555555" stroke-width="0.9"/>
<text transform="translate(253.50,658.00) scale(0.950,1)" font-family="Liberation Mono" font-size="10.70" fill="#444444" text-anchor="middle" stroke="#444444" stroke-width="0.35">0.8</text>
<line x1="313.50" y1="642.30" x2="313.50" y2="646.90" stroke="#555555" stroke-width="0.9"/>
<text transform="translate(313.80,658.00) scale(0.950,1)" font-family="Liberation Mono" font-size="10.70" fill="#444444" text-anchor="middle" stroke="#444444" stroke-width="0.35">1.0</text>
<rect x="54.90" y="533.7" width="110.60" height="102.0" rx="2" ry="2" fill="#ffffff" fill-opacity="0.98"/>
<line x1="59.10" y1="543.65" x2="83.90" y2="543.65" stroke="#1b9e77" stroke-width="1.6" stroke-opacity="0.85"/>
<text transform="translate(92.20,547.50) scale(1.050,1)" font-family="Liberation Mono" font-size="11.00" fill="#444444" text-anchor="start" stroke="#444444" stroke-width="0.35">Walking</text>
<line x1="59.10" y1="560.10" x2="83.90" y2="560.10" stroke="#d95f02" stroke-width="1.6" stroke-opacity="0.85"/>
<text transform="translate(92.20,563.85) scale(1.050,1)" font-family="Liberation Mono" font-size="11.00" fill="#444444" text-anchor="start" stroke="#444444" stroke-width="0.35">Jogging</text>
<line x1="59.10" y1="576.55" x2="83.90" y2="576.55" stroke="#7570b3" stroke-width="1.6" stroke-opacity="0.85"/>
<text transform="translate(92.20,580.20) scale(1.050,1)" font-family="Liberation Mono" font-size="11.00" fill="#444444" text-anchor="start" stroke="#444444" stroke-width="0.35">Upstairs</text>
<line x1="59.10" y1="593.00" x2="83.90" y2="593.00" stroke="#e7298a" stroke-width="1.6" stroke-opacity="0.85"/>
<text transform="translate(92.20,596.55) scale(1.050,1)" font-family="Liberation Mono" font-size="11.00" fill="#444444" text-anchor="start" stroke="#444444" stroke-width="0.35">Downstairs</text>
<line x1="59.10" y1="609.45" x2="83.90" y2="609.45" stroke="#66a61e" stroke-width="1.6" stroke-opacity="0.85"/>
<text transform="translate(92.20,612.90) scale(1.050,1)" font-family="Liberation Mono" font-size="11.00" fill="#444444" text-anchor="start" stroke="#444444" stroke-width="0.35">Sitting</text>
<line x1="59.10" y1="625.90" x2="83.90" y2="625.90" stroke="#e6ab02" stroke-width="1.6" stroke-opacity="0.85"/>
<text transform="translate(92.20,629.25) scale(1.050,1)" font-family="Liberation Mono" font-size="11.00" fill="#444444" text-anchor="start" stroke="#444444" stroke-width="0.35">Standing</text>
<rect x="407.20" y="379.10" width="276.40" height="263.20" fill="#e6e6e6"/>
<rect x="407.20" y="565.58" width="276.40" height="34" fill="#e0e0e0"/>
<rect x="407.20" y="567.58" width="276.40" height="30" fill="#dcdcdc"/>
<rect x="407.20" y="517.71" width="276.40" height="34" fill="#e0e0e0"/>
<rect x="407.20" y="519.71" width="276.40" height="30" fill="#dcdcdc"/>
<rect x="407.20" y="469.84" width="276.40" height="34" fill="#e0e0e0"/>
<rect x="407.20" y="471.84" width="276.40" height="30" fill="#dcdcdc"/>
<rect x="407.20" y="421.97" width="276.40" height="34" fill="#e0e0e0"/>
<rect x="407.20" y="423.97" width="276.40" height="30" fill="#dcdcdc"/>
<line x1="407.05" y1="379.10" x2="407.05" y2="642.30" stroke="#d2d2d2" stroke-width="0.9"/>
<line x1="432.25" y1="379.10" x2="432.25" y2="642.30" stroke="#d2d2d2" stroke-width="0.9"/>
<line x1="444.84" y1="379.10" x2="444.84" y2="642.30" stroke="#d2d2d2" stroke-width="0.9"/>
<line x1="457.44" y1="379.10" x2="457.44" y2="642.30" stroke="#d2d2d2" stroke-width="0.9"/>
<line x1="482.62" y1="379.10" x2="482.62" y2="642.30" stroke="#d2d2d2" stroke-width="0.9"/>
<line x1="495.22" y1="379.10" x2="495.22" y2="642.30" stroke="#d2d2d2" stroke-width="0.9"/>
<line x1="507.81" y1="379.10" x2="507.81" y2="642.30" stroke="#d2d2d2" stroke-width="0.9"/>
<line x1="533.00" y1="379.10" x2="533.00" y2="642.30" stroke="#d2d2d2" stroke-width="0.9"/>
<line x1="545.60" y1="379.10" x2="545.60" y2="642.30" stroke="#d2d2d2" stroke-width="0.9"/>
<line x1="558.19" y1="379.10" x2="558.19" y2="642.30" stroke="#d2d2d2" stroke-width="0.9"/>
<line x1="583.38" y1="379.10" x2="583.38" y2="642.30" stroke="#d2d2d2" stroke-width="0.9"/>
<line x1="595.98" y1="379.10" x2="595.98" y2="642.30" stroke="#d2d2d2" stroke-width="0.9"/>
<line x1="608.58" y1="379.10" x2="608.58" y2="642.30" stroke="#d2d2d2" stroke-width="0.9"/>
<line x1="633.76" y1="379.10" x2="633.76" y2="642.30" stroke="#d2d2d2" stroke-width="0.9"/>
<line x1="646.36" y1="379.10" x2="646.36" y2="642.30" stroke="#d2d2d2" stroke-width="0.9"/>
<line x1="658.95" y1="379.10" x2="658.95" y2="642.30" stroke="#d2d2d2" stroke-width="0.9"/>
<line x1="407.20" y1="618.48" x2="683.60" y2="618.48" stroke="#d2d2d2" stroke-width="0.9"/>
<line x1="407.20" y1="606.52" x2="683.60" y2="606.52" stroke="#d2d2d2" stroke-width="0.9"/>
<line x1="407.20" y1="594.55" x2="683.60" y2="594.55" stroke="#d2d2d2" stroke-width="0.9"/>
<line x1="407.20" y1="570.61" x2="683.60" y2="570.61" stroke="#d2d2d2" stroke-width="0.9"/>
<line x1="407.20" y1="558.64" x2="683.60" y2="558.64" stroke="#d2d2d2" stroke-width="0.9"/>
<line x1="407.20" y1="546.68" x2="683.60" y2="546.68" stroke="#d2d2d2" stroke-width="0.9"/>
<line x1="407.20" y1="522.74" x2="683.60" y2="522.74" stroke="#d2d2d2" stroke-width="0.9"/>
<line x1="407.20" y1="510.78" x2="683.60" y2="510.78" stroke="#d2d2d2" stroke-width="0.9"/>
<line x1="407.20" y1="498.81" x2="683.60" y2="498.81" stroke="#d2d2d2" stroke-width="0.9"/>
<line x1="407.20" y1="474.87" x2="683.60" y2="474.87" stroke="#d2d2d2" stroke-width="0.9"/>
<line x1="407.20" y1="462.91" x2="683.60" y2="462.91" stroke="#d2d2d2" stroke-width="0.9"/>
<line x1="407.20" y1="450.94" x2="683.60" y2="450.94" stroke="#d2d2d2" stroke-width="0.9"/>
<line x1="407.20" y1="427.00" x2="683.60" y2="427.00" stroke="#d2d2d2" stroke-width="0.9"/>
<line x1="407.20" y1="415.04" x2="683.60" y2="415.04" stroke="#d2d2d2" stroke-width="0.9"/>
<line x1="407.20" y1="403.07" x2="683.60" y2="403.07" stroke="#d2d2d2" stroke-width="0.9"/>
<line x1="407.20" y1="379.13" x2="683.60" y2="379.13" stroke="#d2d2d2" stroke-width="0.9"/>
<path d="M419.7,630.4 L421.2,520.0 L421.8,500.0 L424.9,460.0 L427.5,438.4 L432.2,424.4 L436.9,414.6 L445.0,407.6 L456.7,400.5 L468.4,397.2 L480.0,395.5 L490.0,394.5 L540.0,392.5 L580.0,391.8 L671.6,391.1" fill="none" stroke="#1b9e77" stroke-width="1.7" stroke-linejoin="round" stroke-linecap="butt"/>
<path d="M419.7,630.4 L420.8,520.0 L422.8,460.0 L425.2,429.0 L429.9,412.7 L435.7,404.2 L445.0,399.2 L456.7,395.8 L474.2,393.6 L490.0,393.1 L580.0,392.3 L652.0,391.6" fill="none" stroke="#d95f02" stroke-width="1.7" stroke-linejoin="round" stroke-linecap="butt"/>
<path d="M419.7,630.4 L420.6,520.0 L422.3,460.0 L424.0,429.0 L427.5,410.4 L432.2,401.6 L439.2,396.4 L450.9,392.8 L490.0,391.7 L580.0,391.3 L671.6,391.1" fill="none" stroke="#7570b3" stroke-width="1.7" stroke-linejoin="round" stroke-linecap="butt"/>
<path d="M419.7,630.4 L420.7,520.0 L422.6,460.0 L424.6,429.0 L428.7,411.5 L433.4,403.4 L440.4,398.1 L456.7,394.6 L490.0,392.8 L611.7,392.6" fill="none" stroke="#e7298a" stroke-width="1.7" stroke-linejoin="round" stroke-linecap="butt"/>
<path d="M419.7,630.4 L420.8,520.0 L423.1,460.0 L425.2,432.6 L428.7,417.4 L435.7,408.8 L445.0,402.8 L456.7,397.8 L468.4,394.8 L490.0,393.5 L580.0,392.2 L671.6,391.1" fill="none" stroke="#66a61e" stroke-width="1.7" stroke-linejoin="round" stroke-linecap="butt"/>
<path d="M419.7,630.4 L420.5,520.0 L421.1,460.0 L422.3,426.7 L424.0,412.7 L426.4,403.4 L429.3,399.3 L433.4,397.5 L438.0,395.2 L445.0,394.0 L456.7,393.4 L490.0,392.8 L580.0,391.8 L671.6,391.1" fill="none" stroke="#e6ab02" stroke-width="1.7" stroke-linejoin="round" stroke-linecap="butt"/>
<rect x="407.20" y="379.10" width="276.40" height="263.20" fill="none" stroke="#555555" stroke-width="1.1"/>
<line x1="402.60" y1="630.45" x2="407.20" y2="630.45" stroke="#555555" stroke-width="0.9"/>
<line x1="405.20" y1="618.48" x2="407.20" y2="618.48" stroke="#555555" stroke-width="0.9"/>
<line x1="405.20" y1="606.52" x2="407.20" y2="606.52" stroke="#555555" stroke-width="0.9"/>
<line x1="405.20" y1="594.55" x2="407.20" y2="594.55" stroke="#555555" stroke-width="0.9"/>
<line x1="402.60" y1="582.58" x2="407.20" y2="582.58" stroke="#555555" stroke-width="0.9"/>
<line x1="405.20" y1="570.61" x2="407.20" y2="570.61" stroke="#555555" stroke-width="0.9"/>
<line x1="405.20" y1="558.64" x2="407.20" y2="558.64" stroke="#555555" stroke-width="0.9"/>
<line x1="405.20" y1="546.68" x2="407.20" y2="546.68" stroke="#555555" stroke-width="0.9"/>
<line x1="402.60" y1="534.71" x2="407.20" y2="534.71" stroke="#555555" stroke-width="0.9"/>
<line x1="405.20" y1="522.74" x2="407.20" y2="522.74" stroke="#555555" stroke-width="0.9"/>
<line x1="405.20" y1="510.78" x2="407.20" y2="510.78" stroke="#555555" stroke-width="0.9"/>
<line x1="405.20" y1="498.81" x2="407.20" y2="498.81" stroke="#555555" stroke-width="0.9"/>
<line x1="402.60" y1="486.84" x2="407.20" y2="486.84" stroke="#555555" stroke-width="0.9"/>
<line x1="405.20" y1="474.87" x2="407.20" y2="474.87" stroke="#555555" stroke-width="0.9"/>
<line x1="405.20" y1="462.91" x2="407.20" y2="462.91" stroke="#555555" stroke-width="0.9"/>
<line x1="405.20" y1="450.94" x2="407.20" y2="450.94" stroke="#555555" stroke-width="0.9"/>
<line x1="402.60" y1="438.97" x2="407.20" y2="438.97" stroke="#555555" stroke-width="0.9"/>
<line x1="405.20" y1="427.00" x2="407.20" y2="427.00" stroke="#555555" stroke-width="0.9"/>
<line x1="405.20" y1="415.04" x2="407.20" y2="415.04" stroke="#555555" stroke-width="0.9"/>
<line x1="405.20" y1="403.07" x2="407.20" y2="403.07" stroke="#555555" stroke-width="0.9"/>
<line x1="402.60" y1="391.10" x2="407.20" y2="391.10" stroke="#555555" stroke-width="0.9"/>
<text transform="translate(399.10,634.55) scale(0.950,1)" font-family="Liberation Mono" font-size="10.70" fill="#444444" text-anchor="end" stroke="#444444" stroke-width="0.35">0.0</text>
<text transform="translate(399.10,586.68) scale(0.950,1)" font-family="Liberation Mono" font-size="10.70" fill="#444444" text-anchor="end" stroke="#444444" stroke-width="0.35">0.2</text>
<text transform="translate(399.10,538.81) scale(0.950,1)" font-family="Liberation Mono" font-size="10.70" fill="#444444" text-anchor="end" stroke="#444444" stroke-width="0.35">0.4</text>
<text transform="translate(399.10,490.94) scale(0.950,1)" font-family="Liberation Mono" font-size="10.70" fill="#444444" text-anchor="end" stroke="#444444" stroke-width="0.35">0.6</text>
<text transform="translate(399.10,443.07) scale(0.950,1)" font-family="Liberation Mono" font-size="10.70" fill="#444444" text-anchor="end" stroke="#444444" stroke-width="0.35">0.8</text>
<text transform="translate(399.10,395.20) scale(0.950,1)" font-family="Liberation Mono" font-size="10.70" fill="#444444" text-anchor="end" stroke="#444444" stroke-width="0.35">1.0</text>
<line x1="407.05" y1="642.30" x2="407.05" y2="644.30" stroke="#555555" stroke-width="0.9"/>
<line x1="432.25" y1="642.30" x2="432.25" y2="644.30" stroke="#555555" stroke-width="0.9"/>
<line x1="444.84" y1="642.30" x2="444.84" y2="644.30" stroke="#555555" stroke-width="0.9"/>
<line x1="457.44" y1="642.30" x2="457.44" y2="644.30" stroke="#555555" stroke-width="0.9"/>
<line x1="482.62" y1="642.30" x2="482.62" y2="644.30" stroke="#555555" stroke-width="0.9"/>
<line x1="495.22" y1="642.30" x2="495.22" y2="644.30" stroke="#555555" stroke-width="0.9"/>
<line x1="507.81" y1="642.30" x2="507.81" y2="644.30" stroke="#555555" stroke-width="0.9"/>
<line x1="533.00" y1="642.30" x2="533.00" y2="644.30" stroke="#555555" stroke-width="0.9"/>
<line x1="545.60" y1="642.30" x2="545.60" y2="644.30" stroke="#555555" stroke-width="0.9"/>
<line x1="558.19" y1="642.30" x2="558.19" y2="644.30" stroke="#555555" stroke-width="0.9"/>
<line x1="583.38" y1="642.30" x2="583.38" y2="644.30" stroke="#555555" stroke-width="0.9"/>
<line x1="595.98" y1="642.30" x2="595.98" y2="644.30" stroke="#555555" stroke-width="0.9"/>
<line x1="608.58" y1="642.30" x2="608.58" y2="644.30" stroke="#555555" stroke-width="0.9"/>
<line x1="633.76" y1="642.30" x2="633.76" y2="644.30" stroke="#555555" stroke-width="0.9"/>
<line x1="646.36" y1="642.30" x2="646.36" y2="644.30" stroke="#555555" stroke-width="0.9"/>
<line x1="658.95" y1="642.30" x2="658.95" y2="644.30" stroke="#555555" stroke-width="0.9"/>
<line x1="419.65" y1="642.30" x2="419.65" y2="646.90" stroke="#555555" stroke-width="0.9"/>
<text transform="translate(419.95,658.00) scale(0.950,1)" font-family="Liberation Mono" font-size="10.70" fill="#444444" text-anchor="middle" stroke="#444444" stroke-width="0.35">0.0</text>
<line x1="470.03" y1="642.30" x2="470.03" y2="646.90" stroke="#555555" stroke-width="0.9"/>
<text transform="translate(470.33,658.00) scale(0.950,1)" font-family="Liberation Mono" font-size="10.70" fill="#444444" text-anchor="middle" stroke="#444444" stroke-width="0.35">0.2</text>
<line x1="520.41" y1="642.30" x2="520.41" y2="646.90" stroke="#555555" stroke-width="0.9"/>
<text transform="translate(520.71,658.00) scale(0.950,1)" font-family="Liberation Mono" font-size="10.70" fill="#444444" text-anchor="middle" stroke="#444444" stroke-width="0.35">0.4</text>
<line x1="570.79" y1="642.30" x2="570.79" y2="646.90" stroke="#555555" stroke-width="0.9"/>
<text transform="translate(571.09,658.00) scale(0.950,1)" font-family="Liberation Mono" font-size="10.70" fill="#444444" text-anchor="middle" stroke="#444444" stroke-width="0.35">0.6</text>
<line x1="621.17" y1="642.30" x2="621.17" y2="646.90" stroke="#555555" stroke-width="0.9"/>
<text transform="translate(621.47,658.00) scale(0.950,1)" font-family="Liberation Mono" font-size="10.70" fill="#444444" text-anchor="middle" stroke="#444444" stroke-width="0.35">0.8</text>
<line x1="671.55" y1="642.30" x2="671.55" y2="646.90" stroke="#555555" stroke-width="0.9"/>
<text transform="translate(671.85,658.00) scale(0.950,1)" font-family="Liberation Mono" font-size="10.70" fill="#444444" text-anchor="middle" stroke="#444444" stroke-width="0.35">1.0</text>
<rect x="567.30" y="533.7" width="110.60" height="102.0" rx="2" ry="2" fill="#ffffff" fill-opacity="0.98"/>
<line x1="571.50" y1="543.65" x2="596.30" y2="543.65" stroke="#1b9e77" stroke-width="1.6" stroke-opacity="0.85"/>
<text transform="translate(604.60,547.50) scale(1.050,1)" font-family="Liberation Mono" font-size="11.00" fill="#444444" text-anchor="start" stroke="#444444" stroke-width="0.35">Walking</text>
<line x1="571.50" y1="560.10" x2="596.30" y2="560.10" stroke="#d95f02" stroke-width="1.6" stroke-opacity="0.85"/>
<text transform="translate(604.60,563.85) scale(1.050,1)" font-family="Liberation Mono" font-size="11.00" fill="#444444" text-anchor="start" stroke="#444444" stroke-width="0.35">Jogging</text>
<line x1="571.50" y1="576.55" x2="596.30" y2="576.55" stroke="#7570b3" stroke-width="1.6" stroke-opacity="0.85"/>
<text transform="translate(604.60,580.20) scale(1.050,1)" font-family="Liberation Mono" font-size="11.00" fill="#444444" text-anchor="start" stroke="#444444" stroke-width="0.35">Upstairs</text>
<line x1="571.50" y1="593.00" x2="596.30" y2="593.00" stroke="#e7298a" stroke-width="1.6" stroke-opacity="0.85"/>
<text transform="translate(604.60,596.55) scale(1.050,1)" font-family="Liberation Mono" font-size="11.00" fill="#444444" text-anchor="start" stroke="#444444" stroke-width="0.35">Downstairs</text>
<line x1="571.50" y1="609.45" x2="596.30" y2="609.45" stroke="#66a61e" stroke-width="1.6" stroke-opacity="0.85"/>
<text transform="translate(604.60,612.90) scale(1.050,1)" font-family="Liberation Mono" font-size="11.00" fill="#444444" text-anchor="start" stroke="#444444" stroke-width="0.35">Sitting</text>
<line x1="571.50" y1="625.90" x2="596.30" y2="625.90" stroke="#e6ab02" stroke-width="1.6" stroke-opacity="0.85"/>
<text transform="translate(604.60,629.25) scale(1.050,1)" font-family="Liberation Mono" font-size="11.00" fill="#444444" text-anchor="start" stroke="#444444" stroke-width="0.35">Standing</text>
<text transform="translate(187.60,367.40) scale(1.060,1)" font-family="Liberation Sans" font-weight="bold" font-size="13.20" fill="#262626" text-anchor="middle">Precision-Recall Curve (70:30)</text>
<text transform="translate(545.60,367.30) scale(1.060,1)" font-family="Liberation Sans" font-weight="bold" font-size="13.20" fill="#262626" text-anchor="middle">ROC-Curve (70:30)</text>
<text transform="translate(187.50,678.70)" font-family="Liberation Mono" font-size="10.40" fill="#444444" text-anchor="middle" stroke="#444444" stroke-width="0.35">Recall</text>
<text transform="translate(545.40,678.70)" font-family="Liberation Mono" font-size="10.40" fill="#444444" text-anchor="middle" stroke="#444444" stroke-width="0.35">False Positive Rate</text>
<text transform="translate(9.70,512.40) rotate(-90)" font-family="Liberation Mono" font-size="10.40" fill="#444444" text-anchor="middle" stroke="#444444" stroke-width="0.35">Precision</text>
<text transform="translate(367.20,511.00) rotate(-90)" font-family="Liberation Mono" font-size="10.40" fill="#444444" text-anchor="middle" stroke="#444444" stroke-width="0.35">True Positive Rate</text>
<text transform="translate(172.46,346.88) scale(1.350,1)" font-family="Liberation Serif" font-weight="bold" font-size="12.20" fill="#3a3a3a" text-anchor="start">(</text>
<text transform="translate(185.88,346.88) scale(1.419,1)" font-family="Liberation Serif" font-weight="bold" font-size="12.20" fill="#3a3a3a" text-anchor="start">)</text>
<text transform="translate(178.72,348.86) scale(0.891,1)" font-family="Liberation Serif" font-weight="bold" font-size="14.06" fill="#3a3a3a" text-anchor="start" stroke="#3a3a3a" stroke-width="0.45">a</text>
<text transform="translate(530.36,346.88) scale(1.157,1)" font-family="Liberation Serif" font-weight="bold" font-size="12.20" fill="#3a3a3a" text-anchor="start">(</text>
<text transform="translate(544.85,346.88) scale(1.230,1)" font-family="Liberation Serif" font-weight="bold" font-size="12.20" fill="#3a3a3a" text-anchor="start">)</text>
<text transform="translate(536.77,348.85) scale(0.913,1)" font-family="Liberation Serif" font-weight="bold" font-size="14.75" fill="#3a3a3a" text-anchor="start" stroke="#3a3a3a" stroke-width="0.45">b</text>
<text transform="translate(172.46,701.68) scale(1.350,1)" font-family="Liberation Serif" font-weight="bold" font-size="12.20" fill="#3a3a3a" text-anchor="start">(</text>
<text transform="translate(185.54,701.68) scale(1.261,1)" font-family="Liberation Serif" font-weight="bold" font-size="12.20" fill="#3a3a3a" text-anchor="start">)</text>
<text transform="translate(178.63,703.66) scale(0.968,1)" font-family="Liberation Serif" font-weight="bold" font-size="13.96" fill="#3a3a3a" text-anchor="start" stroke="#3a3a3a" stroke-width="0.45">c</text>
<text transform="translate(530.53,701.68) scale(1.222,1)" font-family="Liberation Serif" font-weight="bold" font-size="12.20" fill="#3a3a3a" text-anchor="start">(</text>
<text transform="translate(545.11,701.68) scale(1.072,1)" font-family="Liberation Serif" font-weight="bold" font-size="12.20" fill="#3a3a3a" text-anchor="start">)</text>
<text transform="translate(536.79,703.66) scale(0.876,1)" font-family="Liberation Serif" font-weight="bold" font-size="14.47" fill="#3a3a3a" text-anchor="start" stroke="#3a3a3a" stroke-width="0.45">d</text>
</svg></body></html>
